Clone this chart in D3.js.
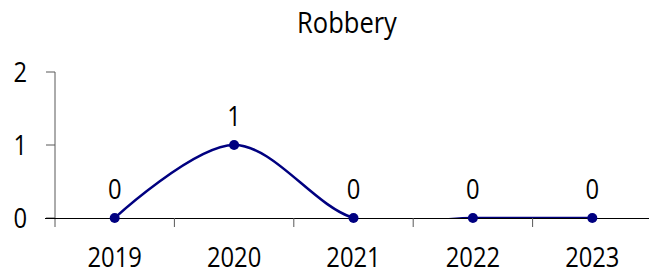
<!DOCTYPE html>
<html>
<head>
<meta charset="utf-8">
<script src="https://cdn.jsdelivr.net/npm/d3@7"></script>
<style>
  body { margin: 0; background: #fff; }
  text { font-family: "Open Sans", "Noto Sans", sans-serif; fill: #000; }
</style>
</head>
<body>
<div id="chart"></div>
<script>
// chart data
const years = ["2019", "2020", "2021", "2022", "2023"];
const robbery = [0, 1, 0, 0, 0];
const yTicks = [0, 1, 2];

const width = 649, height = 271;
const margin = { top: 72, right: -3, bottom: 53, left: 55 };
const innerW = width - margin.left - margin.right;
const innerH = height - margin.top - margin.bottom;
const squeeze = 0.88; // narrow the glyphs a bit, reference font is narrower

const svg = d3.select("#chart")
  .append("svg")
  .attr("width", width)
  .attr("height", height);

svg.append("text")
  .attr("transform", `translate(347,33) scale(${squeeze},1)`)
  .attr("text-anchor", "middle")
  .style("font-size", "29px")
  .text("Robbery");

const g = svg.append("g")
  .attr("transform", `translate(${margin.left},${margin.top})`);

const x = d3.scaleBand().domain(years).range([0, innerW]);
const y = d3.scaleLinear().domain([0, 2]).range([innerH, 0]);
const cx = d => x(d) + x.bandwidth() / 2;

// y axis
g.append("line")
  .attr("x1", 0).attr("x2", 0)
  .attr("y1", 0).attr("y2", innerH + 9)
  .attr("stroke", "#595959");

g.selectAll(".ytick")
  .data(yTicks)
  .join("line")
  .attr("x1", -9).attr("x2", 0)
  .attr("y1", d => y(d)).attr("y2", d => y(d))
  .attr("stroke", "#595959");

g.selectAll(".ylabel")
  .data(yTicks)
  .join("text")
  .attr("transform", d => `translate(-28,${y(d) + 10}) scale(${squeeze},1)`)
  .attr("text-anchor", "end")
  .style("font-size", "27px")
  .text(d => d);

// x axis
g.append("line")
  .attr("x1", -10).attr("x2", innerW + 10)
  .attr("y1", innerH + 0.5).attr("y2", innerH + 0.5)
  .attr("stroke", "#000");

g.selectAll(".xtick")
  .data(years.slice(1))
  .join("line")
  .attr("x1", d => x(d)).attr("x2", d => x(d))
  .attr("y1", innerH).attr("y2", innerH + 9)
  .attr("stroke", "#595959");

g.selectAll(".xlabel")
  .data(years)
  .join("text")
  .attr("transform", d => `translate(${cx(d)},${innerH + 49}) scale(${squeeze},1)`)
  .attr("text-anchor", "middle")
  .style("font-size", "27px")
  .text(d => d);

// clip to plot area
svg.append("clipPath")
  .attr("id", "plot-clip")
  .append("rect")
  .attr("x", 0).attr("y", -10)
  .attr("width", innerW).attr("height", innerH + 10);

const pts = years.map((yr, i) => ({ yr, v: robbery[i] }));

const line = d3.line()
  .x(d => cx(d.yr))
  .y(d => y(d.v))
  .curve(d3.curveCardinal.tension(0));

g.append("path")
  .datum(pts)
  .attr("clip-path", "url(#plot-clip)")
  .attr("fill", "none")
  .attr("stroke", "#000080")
  .attr("stroke-width", 2.5)
  .attr("d", line);

g.selectAll(".dot")
  .data(pts)
  .join("circle")
  .attr("cx", d => cx(d.yr))
  .attr("cy", d => y(d.v))
  .attr("r", 5)
  .attr("fill", "#000080");

g.selectAll(".vlabel")
  .data(pts)
  .join("text")
  .attr("transform", d => `translate(${cx(d.yr)},${y(d.v) - 19}) scale(${squeeze},1)`)
  .attr("text-anchor", "middle")
  .style("font-size", "27px")
  .text(d => d.v);
</script>
</body>
</html>
